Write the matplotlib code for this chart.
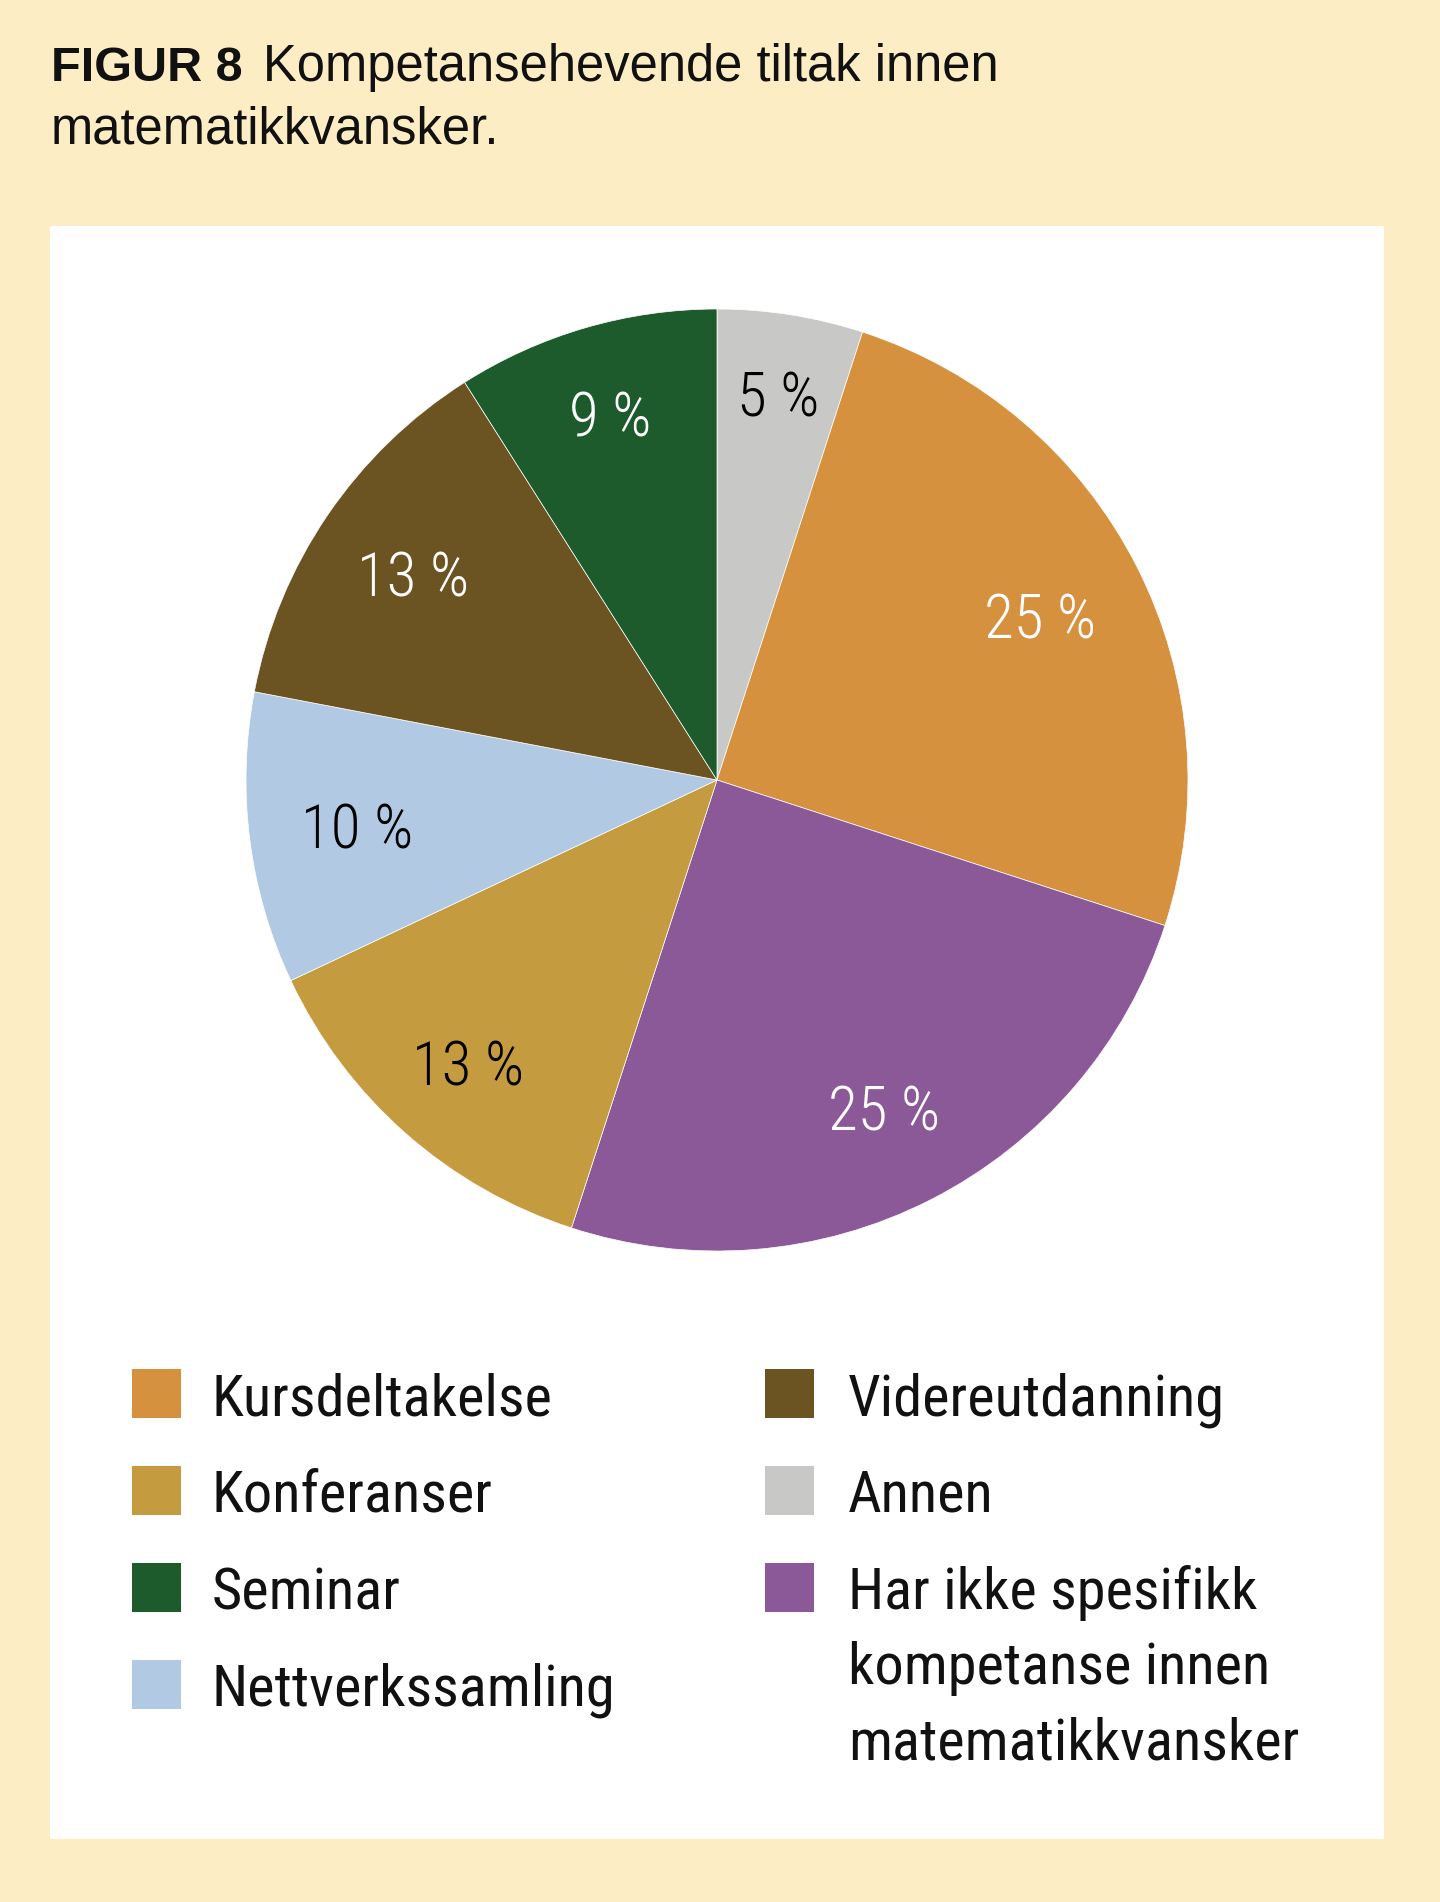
import matplotlib
matplotlib.use("Agg")
import matplotlib.pyplot as plt
from matplotlib.patches import Rectangle
from matplotlib import font_manager
from matplotlib.font_manager import FontProperties

# ---- data ----
pie_labels = ["Annen", "Kursdeltakelse", "Har ikke spesifikk\nkompetanse innen\nmatematikkvansker",
              "Konferanser", "Nettverkssamling", "Videreutdanning", "Seminar"]
pie_values = [5, 25, 25, 13, 10, 13, 9]
pie_colors = ["#C8C8C6", "#D6913F", "#8B5998", "#C49B3E", "#B2C9E4", "#6C5422", "#1D5B2D"]
pct_text_colors = ["black", "white", "white", "black", "black", "white", "white"]
pct_radius = [0.83, 0.77, 0.78, 0.80, 0.77, 0.78, 0.81]

legend_left = ["Kursdeltakelse", "Konferanser", "Seminar", "Nettverkssamling"]
legend_right = ["Videreutdanning", "Annen",
                "Har ikke spesifikk\nkompetanse innen\nmatematikkvansker"]

title_bold = "FIGUR 8"
title_rest_1 = "Kompetansehevende tiltak innen"
title_rest_2 = "matematikkvansker."

# ---- fonts ----
ttf = font_manager.fontManager.ttflist
names = {f.name for f in ttf}
regular = "Liberation Sans" if "Liberation Sans" in names else "DejaVu Sans"

def find_condensed(weights):
    pref_names = ["Liberation Sans Narrow", "Roboto Condensed", "Noto Sans", "Open Sans",
                  "Noto Sans Display", "Inter", "Roboto"]
    ok_stretch = ("condensed", "semi-condensed", 500, 600, 700, 75, 87.5)
    for nm in pref_names:
        for f in ttf:
            if f.name != nm or f.style != "normal":
                continue
            if f.weight not in weights:
                continue
            if nm in ("Liberation Sans Narrow", "Roboto Condensed") or f.stretch in ok_stretch:
                return f.fname
    return None

cond_path = find_condensed((400, "normal", "regular"))
light_path = find_condensed((300, "light")) or cond_path

def cond_fp(size, light=False):
    path = light_path if light else cond_path
    if path:
        return FontProperties(fname=path, size=size)
    return FontProperties(family="Roboto", size=size * 0.89)

W, H = 1440, 1902
fig = plt.figure(figsize=(W / 100, H / 100), dpi=100)
fig.patch.set_facecolor("#FDEDC5")

def fx(px):
    return px / W

def fy(py):
    return 1 - py / H

# white panel
fig.patches.append(Rectangle((fx(50), fy(1839)), fx(1384) - fx(50), fy(226) - fy(1839),
                             transform=fig.transFigure, facecolor="white", edgecolor="none",
                             zorder=-5))

# title
fig.text(fx(51), fy(81), title_bold, fontsize=35, fontweight="bold", family=regular,
         va="baseline", ha="left", color="#111111")
fig.text(fx(263), fy(81), title_rest_1, fontsize=36.5, family=regular,
         va="baseline", ha="left", color="#111111")
fig.text(fx(51), fy(143), title_rest_2, fontsize=36.5, family=regular,
         va="baseline", ha="left", color="#111111")

# pie
cx, cy, r = 717, 780, 471
ax = fig.add_axes([fx(cx - r), fy(cy + r), (2 * r) / W, (2 * r) / H])
ax.set_zorder(2)
ax.set_facecolor("none")
base_pd = 0.79
wedges, texts, autotexts = ax.pie(
    pie_values, colors=pie_colors, startangle=90, counterclock=False,
    autopct=lambda p: f"{p:.0f} %", pctdistance=base_pd,
    wedgeprops=dict(edgecolor="white", linewidth=0.5))
for t, c, rd in zip(autotexts, pct_text_colors, pct_radius):
    t.set_color(c)
    t.set_fontproperties(cond_fp(44, light=True))
    x, y = t.get_position()
    t.set_position((x * rd / base_pd, y * rd / base_pd))
    t.set_va("center_baseline")
ax.set_xlim(-1, 1)
ax.set_ylim(-1, 1)
ax.set_aspect("equal")
ax.axis("off")

color_of = {lab: col for lab, col in zip(pie_labels, pie_colors)}

# legend
def draw_legend(items, sq_x, text_x, row_y0, row_step, line_step):
    y = row_y0
    for lab in items:
        sq = 49
        fig.patches.append(Rectangle((fx(sq_x), fy(y + sq / 2)), sq / W, sq / H,
                                     transform=fig.transFigure, facecolor=color_of[lab],
                                     edgecolor="none", zorder=2))
        for i, line in enumerate(lab.split("\n")):
            fig.text(fx(text_x), fy(y + 22 + i * line_step), line, fontproperties=cond_fp(42),
                     va="baseline", ha="left", color="#111111")
        y += row_step

draw_legend(legend_left, 132, 212, 1393, 97, 75)
draw_legend(legend_right, 765, 848, 1393, 97, 75)

fig.savefig("out.png", dpi=100, facecolor=fig.get_facecolor())
